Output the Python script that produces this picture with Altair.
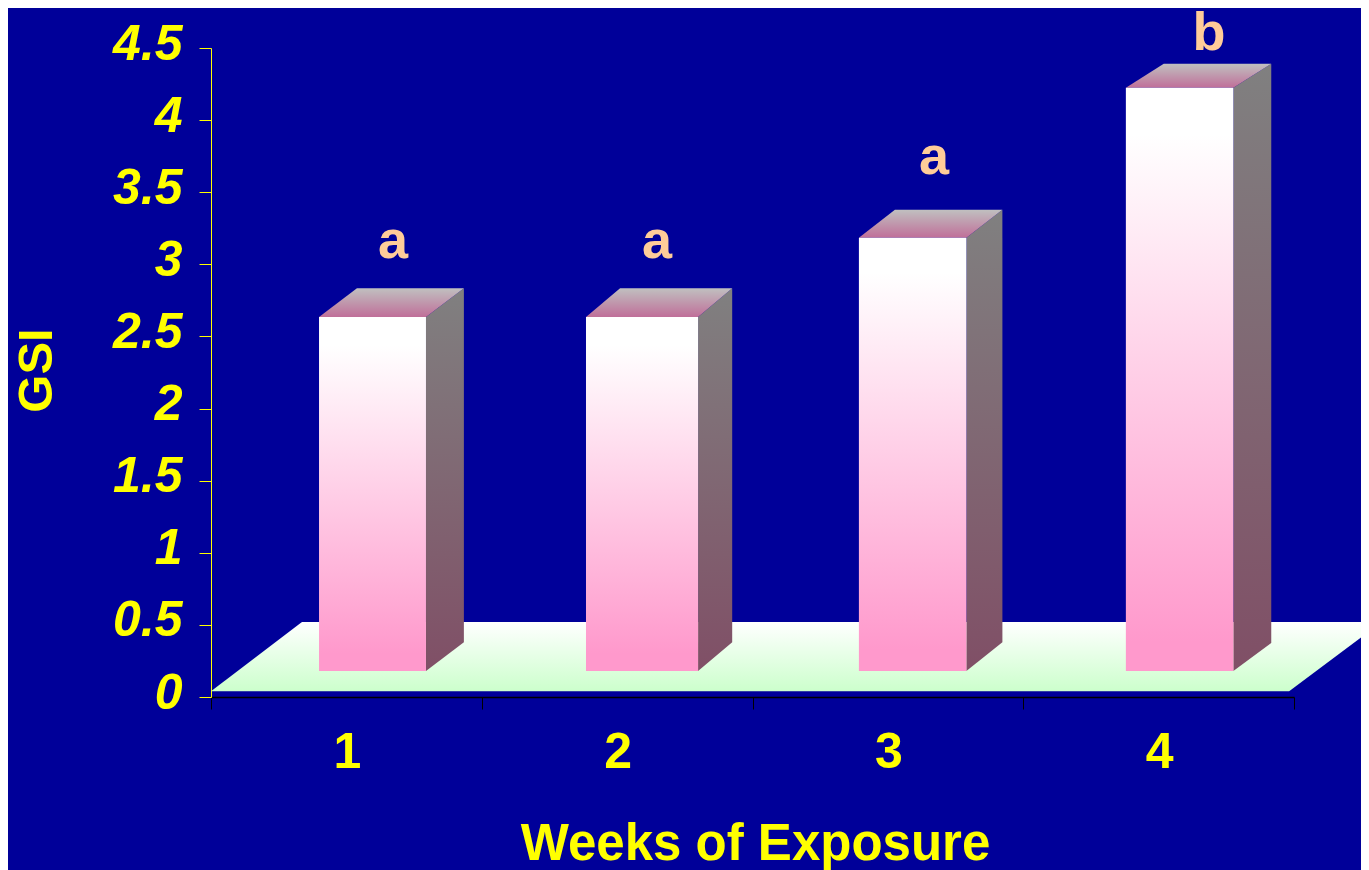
import altair as alt
import pandas as pd

FONT = "Liberation Sans"
NAVY = "#000099"
YELLOW = "#ffff00"

weeks = [1, 2, 3, 4]
bar_left = [0.899, 1.885, 2.893, 3.879]
bar_right = [1.294, 2.299, 3.29, 4.276]
bar_base = [0.18, 0.18, 0.18, 0.18]
bar_top = [2.635, 2.635, 3.185, 4.225]
depth_x = [0.14, 0.126, 0.133, 0.14]
depth_base = [0.2, 0.2, 0.2, 0.195]
depth_top = [0.2, 0.2, 0.194, 0.166]

letters = ["a", "a", "a", "b"]
letter_x = [1.172, 2.147, 3.17, 4.186]
letter_y = [3.155, 3.155, 3.735, 4.6]

y_ticks = [0, 0.5, 1, 1.5, 2, 2.5, 3, 3.5, 4, 4.5]
x_ticks = [0.5, 1.5, 2.5, 3.5, 4.5]

floor_y = [0.04, 0.52]
floor_left = [0.5, 0.836]
floor_right = [4.482, 4.824]

x_scale = alt.Scale(domain=[0.5, 4.5], nice=False, zero=False)
y_scale = alt.Scale(domain=[0, 4.5], nice=False, zero=False)


def gradient(*stops):
    return {
        "gradient": "linear",
        "x1": 0, "x2": 0, "y1": 0, "y2": 1,
        "stops": [{"offset": o, "color": c} for o, c in stops],
    }


x_plain = alt.X("x:Q", scale=x_scale, axis=None)
y_plain = alt.Y("y:Q", scale=y_scale, axis=None)

# Axes
axes = alt.Chart(pd.DataFrame({"x": [0.5], "y": [0]})).mark_point(opacity=0).encode(
    x=alt.X(
        "x:Q", scale=x_scale, title="Weeks of Exposure",
        axis=alt.Axis(
            values=x_ticks, domainColor="#000000", domainWidth=1.5, tickColor="#000000",
            tickSize=12, tickWidth=1, grid=False, labelFont=FONT, labelFontSize=50,
            labelFontWeight="bold", labelColor=YELLOW, labelPadding=18, labelOffset=136,
            labelOverlap=False, labelFlush=False,
            labelExpr="datum.value < 4 ? format(datum.value + 0.5, 'd') : ''",
            titleFont=FONT, titleFontSize=51, titleFontWeight="bold", titleColor=YELLOW,
            titleX=544, titleY=147, titleAlign="center", titleBaseline="middle",
        ),
    ),
    y=alt.Y(
        "y:Q", scale=y_scale, title="GSI",
        axis=alt.Axis(
            values=y_ticks, domainColor=YELLOW, domainWidth=1, tickColor=YELLOW,
            tickSize=12, tickWidth=1, grid=False, labelFont=FONT, labelFontSize=50,
            labelFontWeight="bold", labelFontStyle="italic", labelColor=YELLOW,
            labelPadding=17, labelOffset=-4, labelOverlap=False, labelFlush=False,
            labelExpr="format(datum.value, '')",
            titleFont=FONT, titleFontSize=49, titleFontWeight="bold", titleColor=YELLOW,
            titleX=-175, titleY=322, titleAngle=270, titleAlign="center", titleBaseline="middle",
        ),
    ),
)

# Floor
floor = alt.Chart(pd.DataFrame({"y": floor_y, "x": floor_left, "x2": floor_right})).mark_area(
    orient="horizontal", fill=gradient((0, "#ffffff"), (1, "#ccffcc"))
).encode(y=y_plain, x=x_plain, x2="x2:Q")

layers = [axes, floor]

# Bars
for i in range(len(weeks)):
    side = pd.DataFrame({
        "x": [bar_right[i], bar_right[i] + depth_x[i]],
        "y": [bar_base[i], bar_base[i] + depth_base[i]],
        "y2": [bar_top[i], bar_top[i] + depth_top[i]],
    })
    layers.append(
        alt.Chart(side).mark_area(orient="vertical", fill=gradient((0, "#808080"), (1, "#804f66"))).encode(
            x=x_plain, y=y_plain, y2="y2:Q"
        )
    )
    top = pd.DataFrame({
        "y": [bar_top[i], bar_top[i] + depth_top[i]],
        "x": [bar_left[i], bar_left[i] + depth_x[i]],
        "x2": [bar_right[i], bar_right[i] + depth_x[i]],
    })
    layers.append(
        alt.Chart(top).mark_area(orient="horizontal", fill=gradient((0, "#c0c0c0"), (1, "#c06f99"))).encode(
            y=y_plain, x=x_plain, x2="x2:Q"
        )
    )

front = pd.DataFrame({"x": bar_left, "x2": bar_right, "y": bar_base, "y2": bar_top})
layers.append(
    alt.Chart(front).mark_rect(
        fill=gradient((0, "#ffffff"), (0.08, "#ffffff"), (0.95, "#ff99cc"), (1, "#ff99cc"))
    ).encode(x=x_plain, x2="x2:Q", y=y_plain, y2="y2:Q")
)

# Significance letters
text = pd.DataFrame({"x": letter_x, "y": letter_y, "t": letters})
layers.append(
    alt.Chart(text).mark_text(
        font=FONT, fontSize=54, fontWeight="bold", color="#ffcc99",
        align="center", baseline="middle",
    ).encode(x=x_plain, y=y_plain, text="t:N")
)

chart = alt.layer(*layers).resolve_axis(x="independent", y="independent").properties(
    width=1083,
    height=649,
    background=NAVY,
    padding={"left": 203, "right": 67, "top": 40, "bottom": 173},
    autosize=alt.AutoSizeParams(type="none"),
).configure_view(stroke=None)

chart.save("out.html", embed_options={"renderer": "svg", "actions": False})
